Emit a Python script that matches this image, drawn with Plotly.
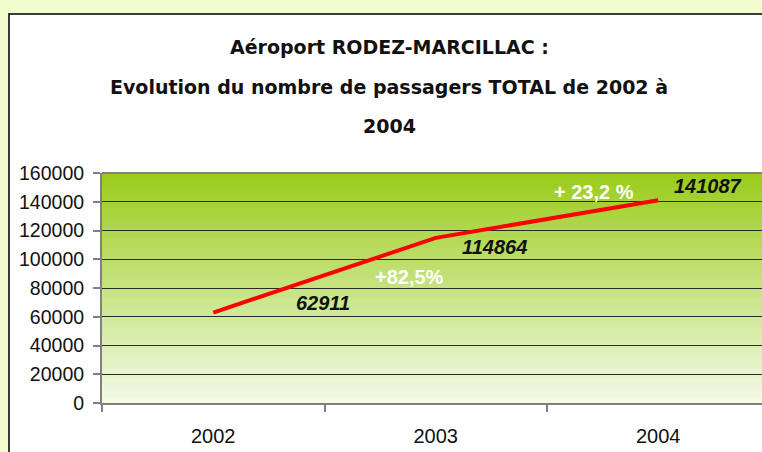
import plotly.graph_objects as go

years = ["2002", "2003", "2004"]
passengers = [62911, 114864, 141087]
growth_labels = ["+82,5%", "+ 23,2 %"]
value_labels = ["62911", "114864", "141087"]
y_ticks = [0, 20000, 40000, 60000, 80000, 100000, 120000, 140000, 160000]
title_lines = ["Aéroport RODEZ-MARCILLAC :",
               "Evolution du nombre de passagers TOTAL de 2002 à",
               "2004"]

W, H = 762, 452
ML, MR, MT, MB = 102, 0, 173, 49
PW = W - ML - MR
PH = H - MT - MB
cat_w = 222.5
xpos = list(range(len(years)))

fig = go.Figure()
fig.add_trace(go.Scatter(x=xpos, y=passengers, mode="lines",
                         line=dict(color="#ff0000", width=4),
                         hoverinfo="skip", showlegend=False))

shapes = []
# chart area (white box with dark border)
shapes.append(dict(type="rect", xref="paper", yref="paper", layer="below",
                   x0=(9 - ML) / PW, x1=1.1, y0=-0.5, y1=(H - MB - 14) / PH,
                   fillcolor="white", line=dict(color="#3a3a3a", width=2)))
# plot area vertical gradient
n = 46
top = (153, 204, 26)
bot = (244, 250, 232)
for i in range(n):
    t = (i + 0.5) / n
    c = tuple(round(bot[k] + (top[k] - bot[k]) * t) for k in range(3))
    shapes.append(dict(type="rect", xref="x domain", yref="y domain", layer="below",
                       x0=0, x1=1, y0=i / n, y1=(i + 1) / n + 0.002,
                       fillcolor="rgb(%d,%d,%d)" % c, line=dict(width=0)))
# top border of plot area
shapes.append(dict(type="line", xref="x domain", yref="y domain", layer="above",
                   x0=0, x1=1, y0=1, y1=1, line=dict(color="#808080", width=2)))

annotations = []
tl_y = [47, 87, 126]
for txt, yy in zip(title_lines, tl_y):
    annotations.append(dict(text=txt, xref="paper", yref="paper",
                            x=(389 - ML) / PW, y=(H - MB - yy) / PH,
                            showarrow=False, xanchor="center", yanchor="middle",
                            font=dict(family="DejaVu Sans", size=19,
                                      color="#111", weight="bold")))

val_shift = [(110, 10), (59, -9), (50, 14)]
for i, (txt, (dx, dy)) in enumerate(zip(value_labels, val_shift)):
    annotations.append(dict(text="<b><i>%s</i></b>" % txt, x=xpos[i], y=passengers[i],
                            xref="x", yref="y", showarrow=False,
                            xshift=dx, yshift=dy,
                            font=dict(family="Liberation Sans", size=20, color="#111")))

gr_shift = [(-26, -39), (-64, 8)]
for i, (txt, (dx, dy)) in enumerate(zip(growth_labels, gr_shift)):
    annotations.append(dict(text="<b>%s</b>" % txt, x=xpos[i + 1], y=passengers[i + 1],
                            xref="x", yref="y", showarrow=False,
                            xshift=dx, yshift=dy,
                            font=dict(family="Liberation Sans", size=20, color="white")))

fig.update_layout(
    width=W, height=H,
    margin=dict(l=ML, r=MR, t=MT, b=MB, pad=0),
    paper_bgcolor="#f3fccc",
    plot_bgcolor="rgba(0,0,0,0)",
    shapes=shapes,
    annotations=annotations,
    showlegend=False,
    xaxis=dict(range=[-0.5, -0.5 + PW / cat_w], tickvals=xpos, ticktext=years,
               ticks="", showgrid=False, zeroline=False,
               showline=True, linecolor="#808080", linewidth=2,
               tickfont=dict(family="Liberation Sans", size=20, color="#111"),
               ticklabelstandoff=14,
               minor=dict(tick0=-0.5, dtick=1, ticks="outside", ticklen=7,
                          tickcolor="#808080", tickwidth=2, showgrid=False)),
    yaxis=dict(range=[0, 160000], tickvals=y_ticks,
               ticktext=[str(v) for v in y_ticks],
               ticks="outside", ticklen=7, tickcolor="#808080", tickwidth=2,
               showline=True, linecolor="#808080", linewidth=2,
               showgrid=True, gridcolor="#2a2a2a", gridwidth=1, zeroline=False,
               tickfont=dict(family="Liberation Sans", size=19.5, color="#111"),
               ticklabelstandoff=5),
)

fig.write_html("out.html")
